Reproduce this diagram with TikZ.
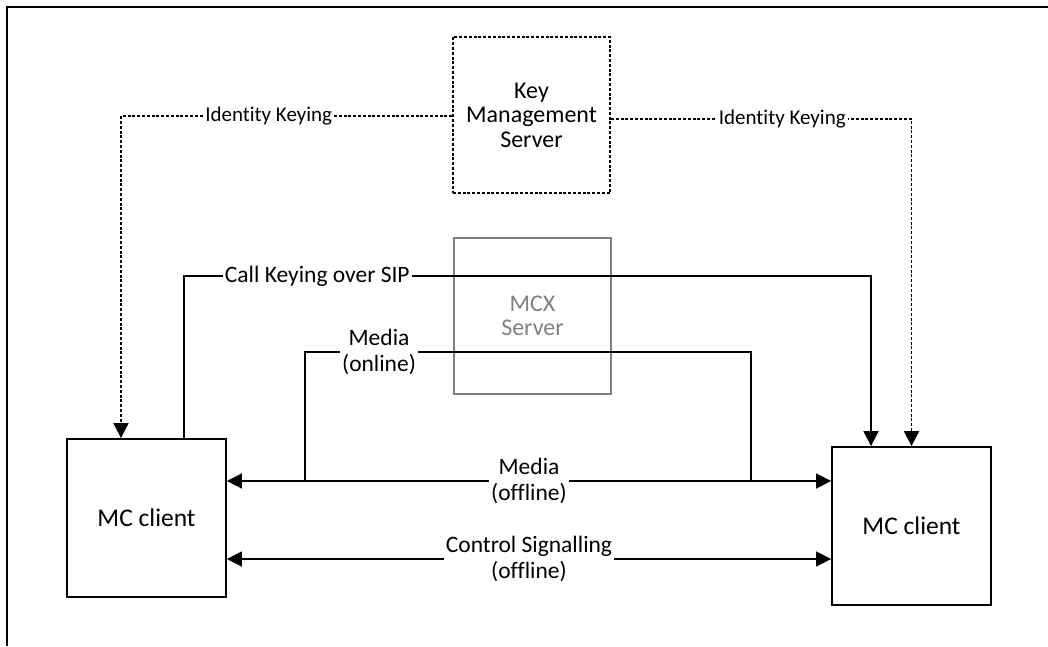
\documentclass[tikz,border=0pt]{standalone}
\usepackage{fontspec}
\setmainfont{Carlito}[Ligatures={NoCommon,NoRare,NoDiscretionary}]
\usetikzlibrary{arrows.meta}
\begin{document}
\begin{tikzpicture}[x=1pt,y=-1pt,
  client/.style={draw,line width=1.8pt,minimum width=159pt,minimum height=158pt,inner sep=0pt,align=center,font=\fontsize{25.5}{28}\selectfont},
  server/.style={minimum width=157pt,minimum height=156pt,inner sep=0pt,align=center,font=\fontsize{24}{24.5}\selectfont},
  dk/.style={line width=1.8pt,dash pattern=on 3pt off 1.8pt},
  conn/.style={line width=1.6pt},
  tip/.style={-{Triangle[length=15pt,width=15pt]}},
  lbl/.style={fill=white,inner sep=2pt,align=center,font=\fontsize{23.5}{26}\selectfont},
  slbl/.style={fill=white,inner sep=2pt,font=\fontsize{21}{24}\selectfont}
]
\useasboundingbox (0,0) rectangle (1048,646);
\draw[line width=2pt] (7,646) -- (7,7) -- (1048,7);

\node[server,dk,draw] (kms) at (531.5,115) {Key\\Management\\Server};
\node[server,draw=gray,line width=1.5pt,text=gray] (mcx) at (532.5,316) {MCX\\Server};
\node[client] (lc) at (146.5,518) {MC client};
\node[client] (rc) at (911.5,526) {MC client};

\coordinate (mo1) at (305,481);
\coordinate (mo2) at (751,481);

% identity keying
\draw[dk,tip] ([yshift=-1pt]kms.west) -| node[slbl,pos=0.277]{Identity Keying} ([xshift=-25.5pt]lc.north);
\draw[dk,tip] ([yshift=-4pt]kms.east) -| node[slbl,pos=0.285]{Identity Keying} (rc.north);

% call keying
\draw[conn,tip] ([xshift=37.5pt]lc.north) -- ++(0,-162) -| node[lbl,pos=0.097]{Call Keying over SIP} ([xshift=-40.5pt]rc.north);

% media online
\draw[conn] (mo1) -- ++(0,-129) -- node[lbl,pos=0.166]{Media\\(online)} ++(446,0) -- (mo2);

% media offline
\draw[conn,{Triangle[length=15pt,width=15pt]}-{Triangle[length=15pt,width=15pt]}] ([yshift=37pt]lc.east) -- node[lbl]{Media\\(offline)} ([yshift=45pt]rc.west);

% control signalling
\draw[conn,{Triangle[length=15pt,width=15pt]}-{Triangle[length=15pt,width=15pt]}] ([yshift=-41pt]lc.east) -- node[lbl]{Control Signalling\\(offline)} ([yshift=-33pt]rc.west);
\end{tikzpicture}
\end{document}
